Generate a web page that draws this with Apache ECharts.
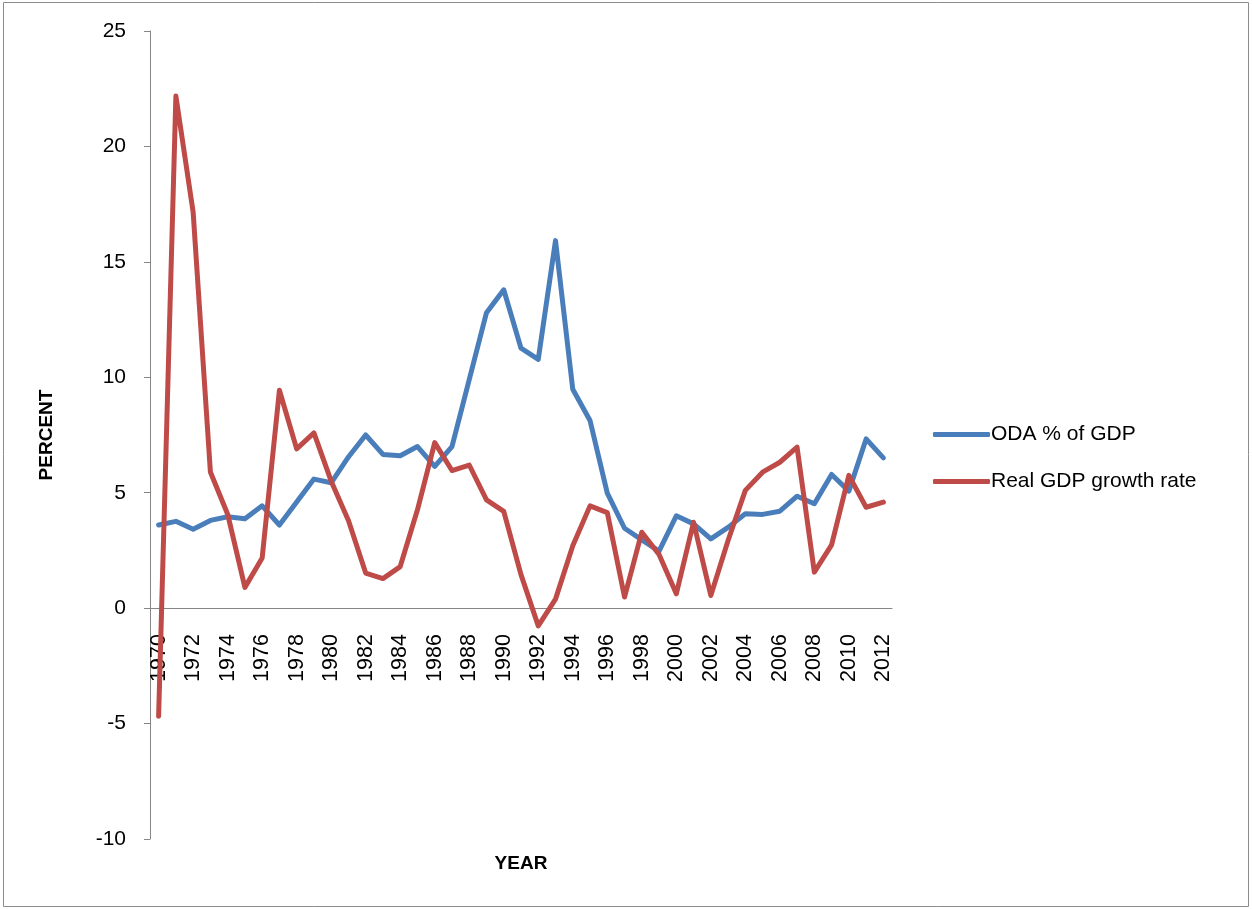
<!DOCTYPE html>
<html>
<head>
<meta charset="utf-8">
<script src="https://cdn.jsdelivr.net/npm/echarts@6/dist/echarts.min.js"></script>
<style>
  html, body { margin: 0; padding: 0; background: #fff; }
  #chart { width: 1252px; height: 909px; }
</style>
</head>
<body>
<div id="chart"></div>
<script>
// Years on the category axis
const years = [];
for (let y = 1970; y <= 2012; y++) years.push(String(y));

// Official development assistance as a share of GDP (%)
const odaPctGdp = [
  3.6, 3.76, 3.42, 3.8, 3.96, 3.87, 4.43, 3.6, 4.6, 5.59,
  5.43, 6.55, 7.5, 6.66, 6.6, 7.0, 6.14, 7.0, 9.9, 12.8,
  13.79, 11.26, 10.78, 15.92, 9.48, 8.13, 4.98, 3.46, 2.96, 2.47,
  4.0, 3.65, 3.0, 3.5, 4.09, 4.06, 4.2, 4.85, 4.52, 5.79,
  5.07, 7.33, 6.51
];

// Real GDP growth rate (%)
const realGdpGrowth = [
  -4.68, 22.18, 17.15, 5.9, 4.07, 0.9, 2.17, 9.44, 6.9, 7.59,
  5.5, 3.8, 1.52, 1.28, 1.8, 4.26, 7.17, 5.96, 6.2, 4.69,
  4.19, 1.45, -0.77, 0.39, 2.7, 4.43, 4.14, 0.48, 3.29, 2.32,
  0.62, 3.72, 0.55, 2.93, 5.1, 5.89, 6.32, 6.97, 1.56, 2.74,
  5.75, 4.37, 4.59
];

// Value axis ticks
const yMin = -10, yMax = 25, yStep = 5;

const chart = echarts.init(document.getElementById('chart'), null, { renderer: 'canvas' });
const axisGray = '#868686';
const font = '"Liberation Sans", Arial, sans-serif';

// Plot box
const plotLeft = 150, plotRight = 360, plotTop = 31, plotBottom = 70;
const plotHeight = 909 - plotTop - plotBottom;
// Pixel row of the zero line, used for the year axis band above it
const zeroY = plotTop + plotHeight * (yMax - 0) / (yMax - yMin);

chart.setOption({
  animation: false,
  backgroundColor: '#fff',
  graphic: [{
    type: 'rect',
    shape: { x: 3.5, y: 2.5, width: 1245, height: 904 },
    style: { fill: 'none', stroke: '#8c8c8c', lineWidth: 1 },
    silent: true
  }],
  grid: [
    // main plotting area
    { left: plotLeft, top: plotTop, right: plotRight, bottom: plotBottom, outerBoundsMode: 'none' },
    // band ending at the zero line, carrying the year axis
    { left: plotLeft, top: plotTop, right: plotRight, bottom: 909 - zeroY, outerBoundsMode: 'none' }
  ],
  legend: {
    orient: 'vertical',
    left: 928,
    top: 419,
    itemWidth: 57,
    itemHeight: 5,
    itemGap: 26,
    icon: 'roundRect',
    textStyle: { fontFamily: font, fontSize: 21, color: '#000', padding: [0, 0, 0, -4] },
    data: ['ODA % of GDP', 'Real GDP growth rate']
  },
  xAxis: [
    {
      gridIndex: 0,
      type: 'category',
      data: years,
      boundaryGap: true,
      name: 'YEAR',
      nameLocation: 'middle',
      nameGap: 15,
      nameTextStyle: { fontFamily: font, fontSize: 19, fontWeight: 'bold', color: '#000' },
      axisLine: { show: false, onZero: false },
      axisTick: { show: false },
      axisLabel: { show: false },
      splitLine: { show: false }
    },
    {
      gridIndex: 1,
      type: 'category',
      data: years,
      boundaryGap: true,
      axisLine: { show: true, onZero: false, lineStyle: { color: axisGray, width: 1 } },
      axisTick: { show: false },
      axisLabel: {
        interval: 1,
        rotate: 90,
        margin: 26,
        fontFamily: font,
        fontSize: 21.5,
        color: '#000'
      },
      splitLine: { show: false }
    }
  ],
  yAxis: [
    {
      gridIndex: 0,
      type: 'value',
      min: yMin,
      max: yMax,
      interval: yStep,
      name: 'PERCENT',
      nameLocation: 'middle',
      nameGap: 94,
      nameRotate: 90,
      nameTextStyle: { fontFamily: font, fontSize: 19, fontWeight: 'bold', color: '#000' },
      axisLine: { show: true, lineStyle: { color: axisGray, width: 1 } },
      axisTick: { show: true, inside: false, length: 6, lineStyle: { color: axisGray } },
      axisLabel: { fontFamily: font, fontSize: 21, color: '#000', margin: 24 },
      splitLine: { show: false }
    },
    {
      gridIndex: 1,
      type: 'value',
      min: 0,
      max: 1,
      show: false
    }
  ],
  series: [
    {
      name: 'ODA % of GDP',
      type: 'line',
      xAxisIndex: 0,
      yAxisIndex: 0,
      z: 5,
      data: odaPctGdp,
      symbol: 'none',
      lineStyle: { color: '#4A7EBB', width: 5, join: 'round', cap: 'round' },
      itemStyle: { color: '#4A7EBB' }
    },
    {
      name: 'Real GDP growth rate',
      type: 'line',
      xAxisIndex: 0,
      yAxisIndex: 0,
      z: 5,
      data: realGdpGrowth,
      symbol: 'none',
      lineStyle: { color: '#BE4B48', width: 5, join: 'round', cap: 'round' },
      itemStyle: { color: '#BE4B48' }
    }
  ]
});
</script>
</body>
</html>
